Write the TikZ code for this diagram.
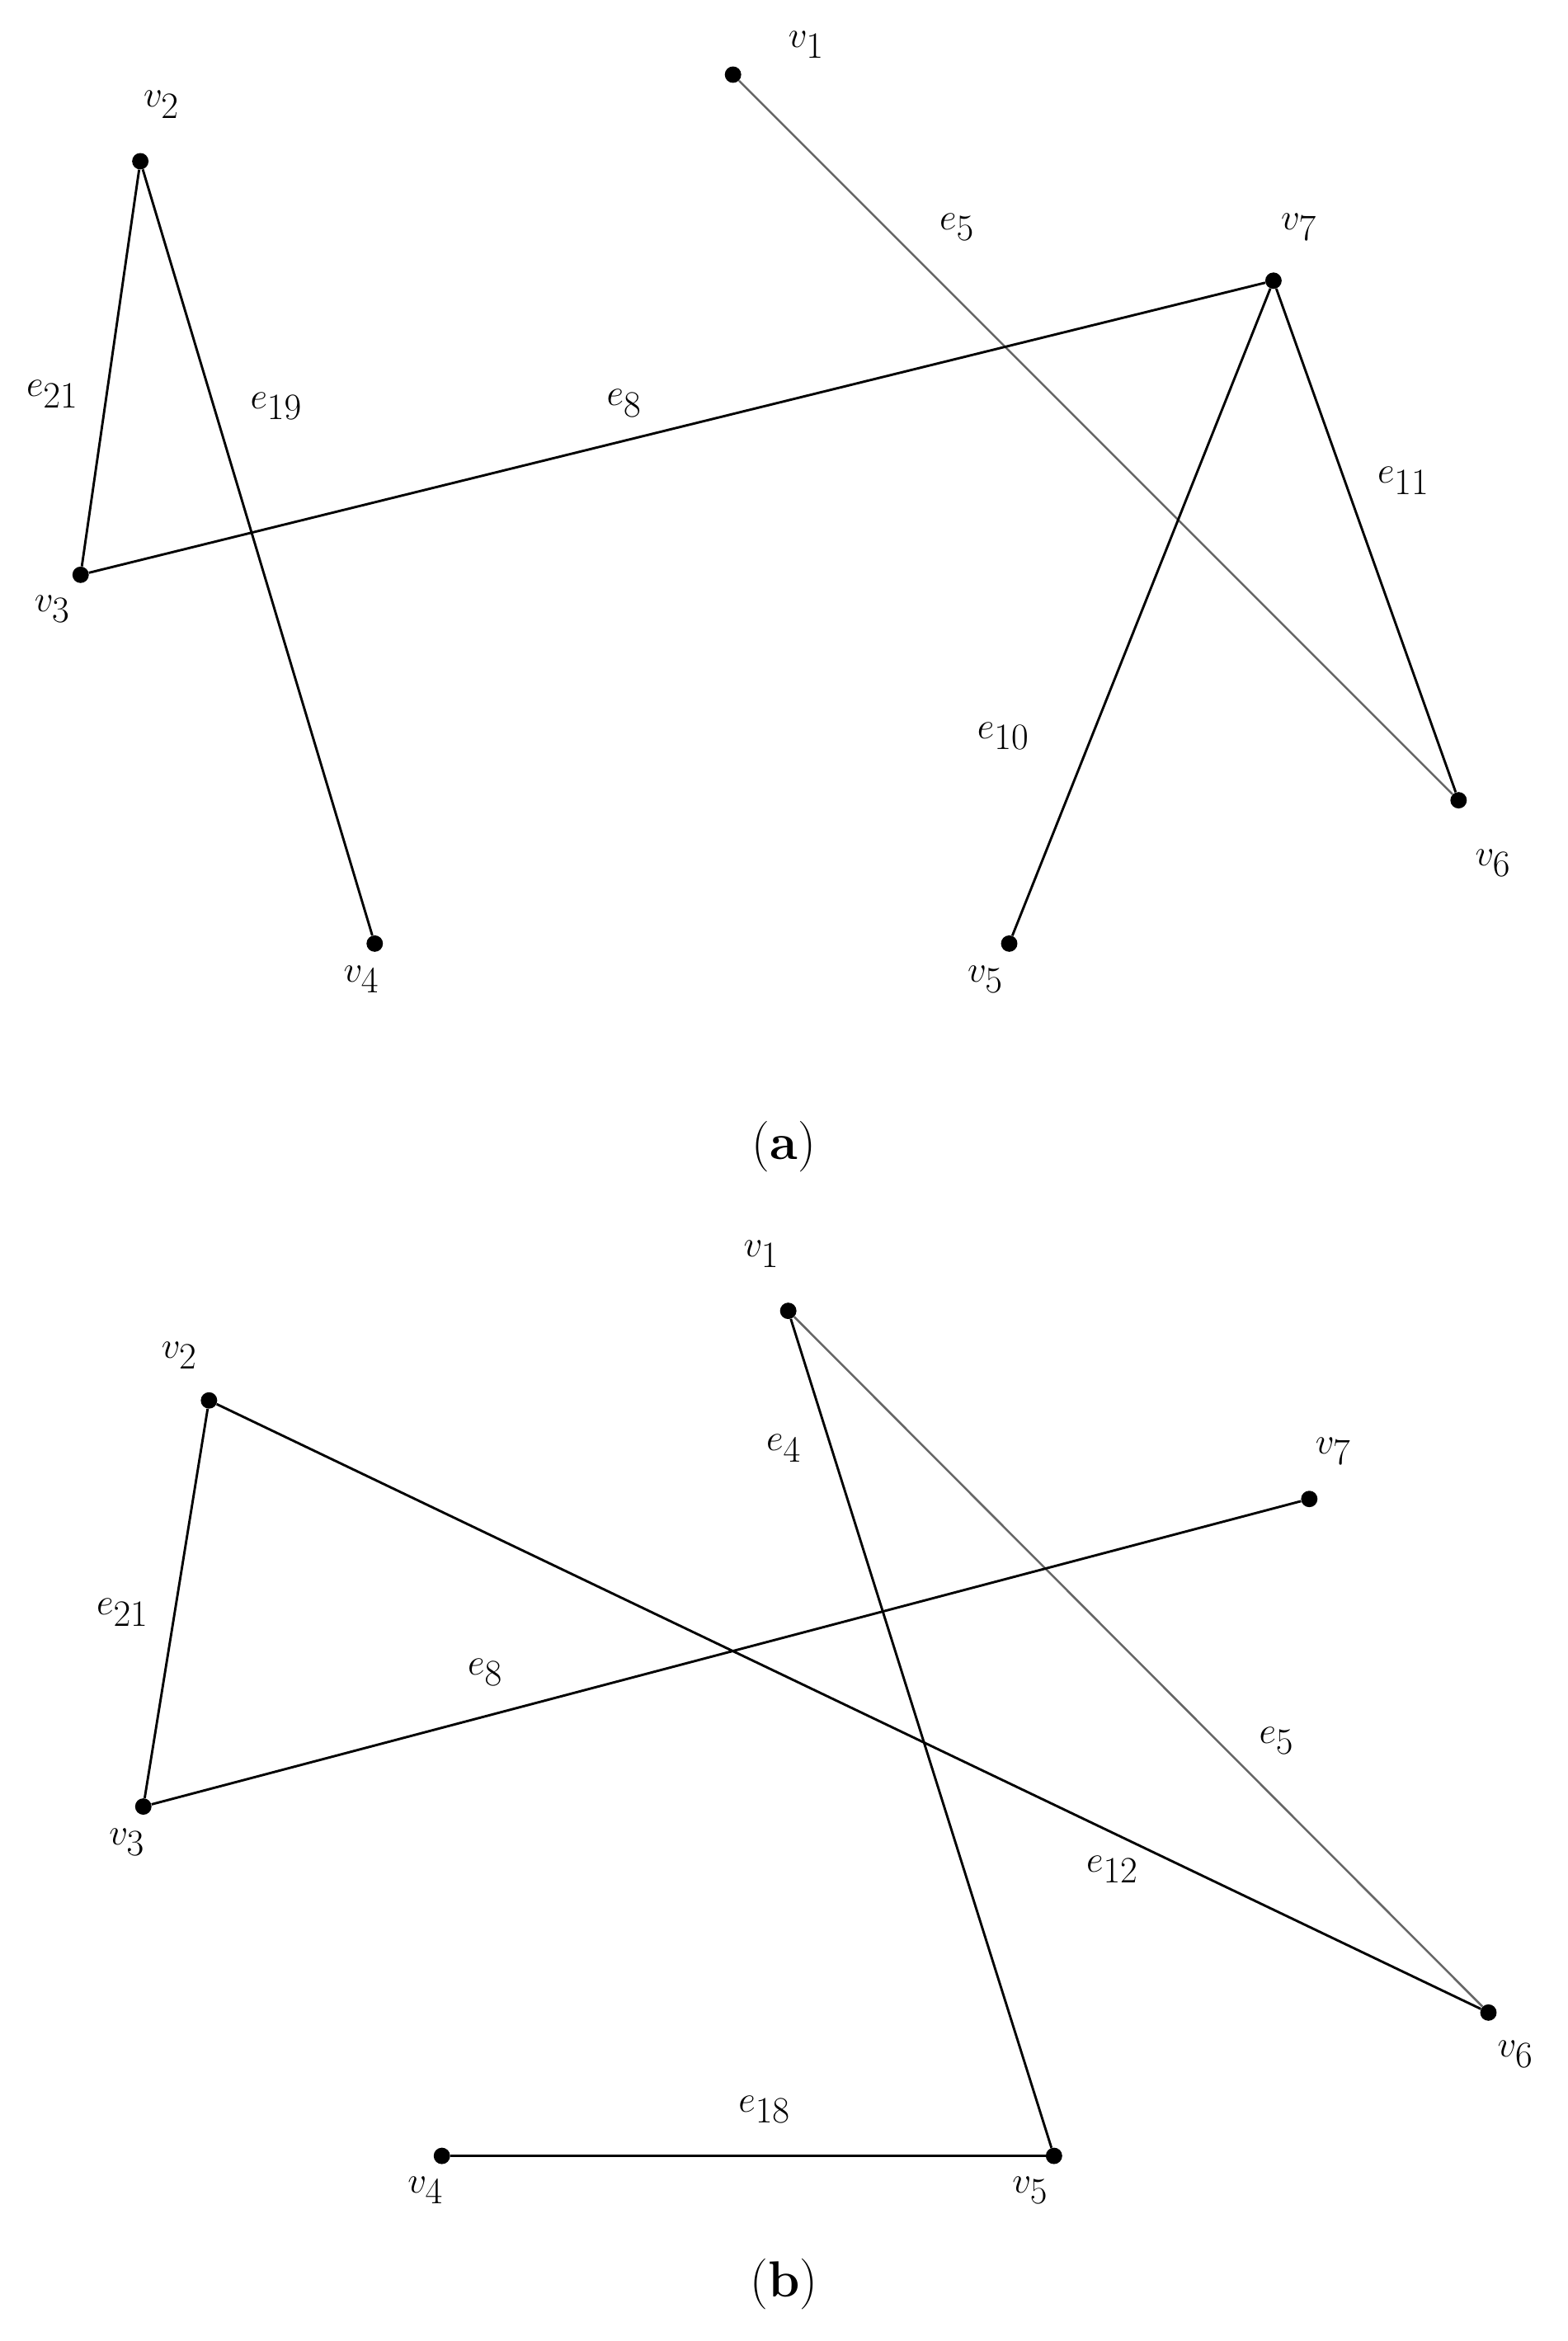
\documentclass[tikz,border=0pt]{standalone}
\begin{document}
\begin{tikzpicture}[x=1pt,y=-1pt,
  dot/.style={circle,fill=black,inner sep=0pt,minimum size=11pt},
  lab/.style={font=\fontsize{34}{38}\selectfont},
  ed/.style={line width=1.6pt},
  gr/.style={line width=1.4pt,gray!80!black}]
\useasboundingbox (0,0) rectangle (1050,1568);
% (a)
\node[dot] (a1) at (491,50) {};
\node[dot] (a2) at (94,108) {};
\node[dot] (a3) at (54,385) {};
\node[dot] (a4) at (251,632) {};
\node[dot] (a5) at (676,632) {};
\node[dot] (a6) at (977,536) {};
\node[dot] (a7) at (853,188) {};
\draw[gr] (a1)--(a6);
\draw[ed] (a7)--(a3);
\draw[ed] (a7)--(a5);
\draw[ed] (a7)--(a6);
\draw[ed] (a2)--(a4);
\draw[ed] (a2)--(a3);
\node[lab] (la1) at (540,30) {$v_1$};
\node[lab] (la2) at (108,70) {$v_2$};
\node[lab] (la3) at (35,408) {$v_3$};
\node[lab] (la4) at (242,656) {$v_4$};
\node[lab] (la5) at (660,656) {$v_5$};
\node[lab] (la6) at (1000,578) {$v_6$};
\node[lab] (la7) at (870,152) {$v_7$};
\node[lab] (le5) at (641,152) {$e_5$};
\node[lab] (le21) at (35,264) {$e_{21}$};
\node[lab] (le19) at (185,272) {$e_{19}$};
\node[lab] (le8) at (418,270) {$e_8$};
\node[lab] (le11) at (940,322) {$e_{11}$};
\node[lab] (le10) at (672,493) {$e_{10}$};
\node[lab] (capa) at (525,768) {(\textbf{a})};
% (b)
\node[dot] (b1) at (528,878) {};
\node[dot] (b2) at (140,938) {};
\node[dot] (b3) at (96,1210) {};
\node[dot] (b4) at (296,1444) {};
\node[dot] (b5) at (706,1444) {};
\node[dot] (b6) at (997,1348) {};
\node[dot] (b7) at (877,1004) {};
\draw[ed] (b1)--(b5);
\draw[gr] (b1)--(b6);
\draw[ed] (b2)--(b6);
\draw[ed] (b3)--(b7);
\draw[ed] (b2)--(b3);
\draw[ed] (b4)--(b5);
\node[lab] (lb1) at (510,840) {$v_1$};
\node[lab] (lb2) at (120,908) {$v_2$};
\node[lab] (lb3) at (85,1234) {$v_3$};
\node[lab] (lb4) at (285,1467) {$v_4$};
\node[lab] (lb5) at (690,1467) {$v_5$};
\node[lab] (lb6) at (1015,1376) {$v_6$};
\node[lab] (lb7) at (893,972) {$v_7$};
\node[lab] (lf4) at (525,970) {$e_4$};
\node[lab] (lf21) at (82,1080) {$e_{21}$};
\node[lab] (lf8) at (325,1120) {$e_8$};
\node[lab] (lf5) at (855,1166) {$e_5$};
\node[lab] (lf12) at (745,1252) {$e_{12}$};
\node[lab] (lf18) at (512,1413) {$e_{18}$};
\node[lab] (capb) at (525,1530) {(\textbf{b})};
\end{tikzpicture}
\end{document}
